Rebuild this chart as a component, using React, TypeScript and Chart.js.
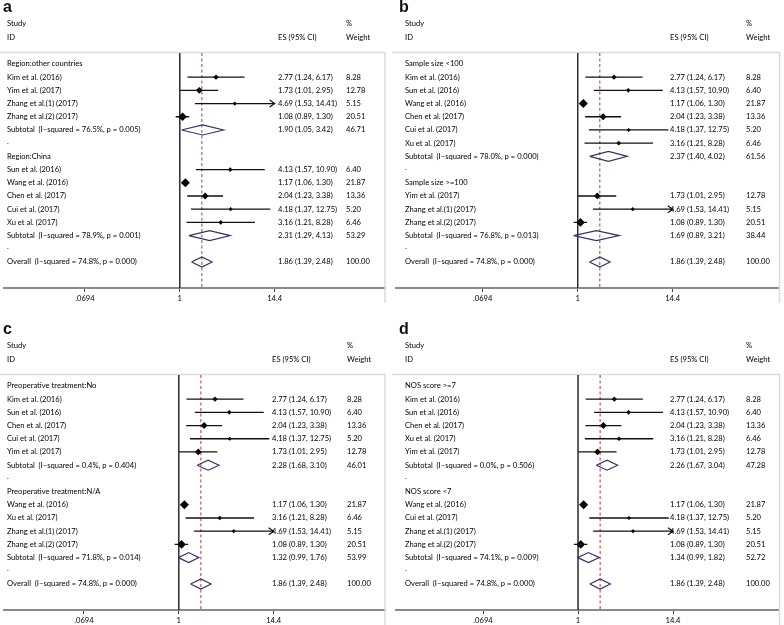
import React, { useEffect, useRef } from "react";
import { Chart, registerables } from "chart.js";
Chart.register(...registerables);

// ---------- data ----------
const studyNames = [
  "Kim et al. (2016)",
  "Yim et al. (2017)",
  "Zhang et al.(1) (2017)",
  "Zhang et al.(2) (2017)",
  "Sun et al. (2016)",
  "Wang et al. (2016)",
  "Chen et al. (2017)",
  "Cui et al. (2017)",
  "Xu et al. (2017)",
];
const studyES = [2.77, 1.73, 4.69, 1.08, 4.13, 1.17, 2.04, 4.18, 3.16];
const studyLo = [1.24, 1.01, 1.53, 0.89, 1.57, 1.06, 1.23, 1.37, 1.21];
const studyHi = [6.17, 2.95, 14.41, 1.3, 10.9, 1.3, 3.38, 12.75, 8.28];
const studyWeight = [8.28, 12.78, 5.15, 20.51, 6.4, 21.87, 13.36, 5.2, 6.46];

const panelLetters = ["a", "b", "c", "d"];
const groupTitles = [
  ["Region:other countries", "Region:China"],
  ["Sample size <100", "Sample size >=100"],
  ["Preoperative treatment:No", "Preoperative treatment:N/A"],
  ["NOS score >=7", "NOS score <7"],
];
// indices into the study arrays
const groupMembers = [
  [[0, 1, 2, 3], [4, 5, 6, 7, 8]],
  [[0, 4, 5, 6, 7, 8], [1, 2, 3]],
  [[0, 4, 6, 7, 1], [5, 8, 2, 3]],
  [[0, 4, 6, 8, 1], [5, 7, 2, 3]],
];
const subtotalHet = [
  ["76.5%, p = 0.005", "78.9%, p = 0.001"],
  ["78.0%, p = 0.000", "76.8%, p = 0.013"],
  ["0.4%, p = 0.404", "71.8%, p = 0.014"],
  ["0.0%, p = 0.506", "74.1%, p = 0.009"],
];
const subtotalES = [[1.9, 2.31], [2.37, 1.69], [2.28, 1.32], [2.26, 1.34]];
const subtotalLo = [[1.05, 1.29], [1.4, 0.89], [1.68, 0.99], [1.67, 0.99]];
const subtotalHi = [[3.42, 4.13], [4.02, 3.21], [3.1, 1.76], [3.04, 1.82]];
const subtotalWeight = [[46.71, 53.29], [61.56, 38.44], [46.01, 53.99], [47.28, 52.72]];

const overallHet = "74.8%, p = 0.000";
const overallES = 1.86;
const overallLo = 1.39;
const overallHi = 2.48;
const overallWeight = 100.0;

const tickValues = [0.0694, 1, 14.4];
const tickLabels = [".0694", "1", "14.4"];

// ---------- layout / style ----------
const W = 392;
const H = 303;
const PX_PER_LN = 35.7;
const layouts = [
  { left: 0, top: 0, nullPx: 179, areaL: 3, areaR: 385, labelX: 7, esX: 278, wX: 346, titleX: 3 },
  { left: 392, top: 0, nullPx: 185.7, areaL: 4, areaR: 388, labelX: 13, esX: 278, wX: 354, titleX: 7 },
  { left: 0, top: 322, nullPx: 178, areaL: 3, areaR: 385, labelX: 7, esX: 272, wX: 347, titleX: 3 },
  { left: 392, top: 322, nullPx: 186, areaL: 4, areaR: 388, labelX: 13, esX: 278, wX: 354, titleX: 7 },
];
const AREA_TOP = 53;
const Y_MIN = -0.83;
const Y_MAX = 16.97;
const TEXT_FONT = "7.6px Lato, 'Liberation Sans', sans-serif";
const TEXT_COLOR = "#000";
const DIAMOND_COLOR = "#34346a";
const DIAMOND_H = 0.38;

function fmtCI(es: number, lo: number, hi: number) {
  return `${es.toFixed(2)} (${lo.toFixed(2)}, ${hi.toFixed(2)})`;
}

type Row =
  | { kind: "group"; text: string }
  | { kind: "study"; s: number }
  | { kind: "subtotal"; g: number }
  | { kind: "dot" }
  | { kind: "overall" };

function buildRows(p: number): Row[] {
  const rows: Row[] = [];
  for (let g = 0; g < 2; g++) {
    rows.push({ kind: "group", text: groupTitles[p][g] });
    for (const s of groupMembers[p][g]) rows.push({ kind: "study", s });
    rows.push({ kind: "subtotal", g });
    rows.push({ kind: "dot" });
  }
  rows.push({ kind: "overall" });
  return rows;
}

function diamond(lo: number, es: number, hi: number, y: number) {
  return [
    { x: lo, y },
    { x: es, y: y - DIAMOND_H },
    { x: hi, y },
    { x: es, y: y + DIAMOND_H },
    { x: lo, y },
  ];
}

function Panel({ p }: { p: number }) {
  const ref = useRef<HTMLCanvasElement>(null);
  useEffect(() => {
    const L = layouts[p];
    const rows = buildRows(p);
    const xMin = Math.exp((L.areaL - L.nullPx) / PX_PER_LN);
    const xMax = Math.exp((L.areaR - L.nullPx) / PX_PER_LN);
    const axisMax = tickValues[tickValues.length - 1];

    const datasets: any[] = [];
    const markerData: any[] = [];
    const markerRadius: number[] = [];
    rows.forEach((row, i) => {
      if (row.kind === "study") {
        const s = row.s;
        datasets.push({
          data: [
            { x: studyLo[s], y: i },
            { x: Math.min(studyHi[s], axisMax), y: i },
          ],
          showLine: true,
          borderColor: "#111",
          borderWidth: 1.3,
          pointRadius: 0,
        });
        markerData.push({ x: studyES[s], y: i });
        markerRadius.push(Math.sqrt(studyWeight[s]) - 0.2);
      } else if (row.kind === "subtotal") {
        const g = row.g;
        datasets.push({
          data: diamond(subtotalLo[p][g], subtotalES[p][g], subtotalHi[p][g], i),
          showLine: true,
          borderColor: DIAMOND_COLOR,
          borderWidth: 1.2,
          pointRadius: 0,
          fill: false,
        });
      } else if (row.kind === "overall") {
        datasets.push({
          data: diamond(overallLo, overallES, overallHi, i),
          showLine: true,
          borderColor: DIAMOND_COLOR,
          borderWidth: 1.2,
          pointRadius: 0,
          fill: false,
        });
      }
    });
    datasets.push({
      data: markerData,
      showLine: false,
      pointStyle: "rectRot",
      pointRadius: markerRadius,
      backgroundColor: "#000",
      borderColor: "#000",
      borderWidth: 0,
    });

    const forestPlugin = {
      id: "forest" + p,
      beforeDatasetsDraw(chart: any) {
        const { ctx, chartArea, scales } = chart;
        ctx.save();
        // frame
        ctx.strokeStyle = "#dcdcdc";
        ctx.lineWidth = 1.5;
        ctx.beginPath();
        ctx.moveTo(0, chartArea.top - 0.5);
        ctx.lineTo(chartArea.right, chartArea.top - 0.5);
        ctx.lineTo(chartArea.right, H);
        ctx.stroke();
        // null line
        const x1 = scales.x.getPixelForValue(1);
        ctx.strokeStyle = "#2a2a2a";
        ctx.lineWidth = 1.5;
        ctx.beginPath();
        ctx.moveTo(x1, chartArea.top);
        ctx.lineTo(x1, chartArea.bottom);
        ctx.stroke();
        // overall effect dashed line
        const xo = scales.x.getPixelForValue(overallES);
        ctx.strokeStyle = "#b23a3a";
        ctx.lineWidth = 1;
        ctx.setLineDash([3, 2.5]);
        ctx.beginPath();
        ctx.moveTo(xo, chartArea.top);
        ctx.lineTo(xo, chartArea.bottom);
        ctx.stroke();
        ctx.restore();
      },
      afterDatasetsDraw(chart: any) {
        const { ctx, scales } = chart;
        ctx.save();
        ctx.strokeStyle = "#111";
        ctx.lineWidth = 1.2;
        rows.forEach((row, i) => {
          if (row.kind === "study" && studyHi[row.s] > axisMax) {
            const px = scales.x.getPixelForValue(axisMax);
            const py = scales.y.getPixelForValue(i);
            ctx.beginPath();
            ctx.moveTo(px - 5, py - 3.5);
            ctx.lineTo(px, py);
            ctx.lineTo(px - 5, py + 3.5);
            ctx.stroke();
          }
        });
        ctx.restore();
      },
      afterDraw(chart: any) {
        const { ctx, scales } = chart;
        ctx.save();
        ctx.fillStyle = "#111";
        ctx.textBaseline = "middle";
        ctx.font = "bold 16px 'Liberation Sans', Arial, sans-serif";
        ctx.fillText(panelLetters[p], L.titleX, 8);
        ctx.fillStyle = TEXT_COLOR;
        ctx.font = TEXT_FONT;
        ctx.fillText("Study", L.labelX, 24);
        ctx.fillText("ID", L.labelX, 38);
        ctx.fillText("ES (95% CI)", L.esX, 38);
        ctx.fillText("%", L.wX, 24);
        ctx.fillText("Weight", L.wX, 38);
        rows.forEach((row, i) => {
          const y = scales.y.getPixelForValue(i);
          if (row.kind === "group") {
            ctx.fillText(row.text, L.labelX, y);
          } else if (row.kind === "study") {
            const s = row.s;
            ctx.fillText(studyNames[s], L.labelX, y);
            ctx.fillText(fmtCI(studyES[s], studyLo[s], studyHi[s]), L.esX, y);
            ctx.fillText(studyWeight[s].toFixed(2), L.wX, y);
          } else if (row.kind === "subtotal") {
            const g = row.g;
            ctx.fillText(`Subtotal  (I\u2013squared = ${subtotalHet[p][g]})`, L.labelX, y);
            ctx.fillText(fmtCI(subtotalES[p][g], subtotalLo[p][g], subtotalHi[p][g]), L.esX, y);
            ctx.fillText(subtotalWeight[p][g].toFixed(2), L.wX, y);
          } else if (row.kind === "dot") {
            ctx.fillText(".", L.labelX, y - 2);
          } else {
            ctx.fillText(`Overall  (I\u2013squared = ${overallHet})`, L.labelX, y);
            ctx.fillText(fmtCI(overallES, overallLo, overallHi), L.esX, y);
            ctx.fillText(overallWeight.toFixed(2), L.wX, y);
          }
        });
        ctx.restore();
      },
    };

    const chart = new Chart(ref.current as HTMLCanvasElement, {
      type: "scatter",
      data: { datasets },
      options: {
        animation: false,
        responsive: false,
        devicePixelRatio: 1,
        events: [],
        layout: { padding: { top: AREA_TOP, left: L.areaL, right: W - L.areaR, bottom: 0 } },
        plugins: { legend: { display: false }, tooltip: { enabled: false } },
        elements: { line: { tension: 0 } },
        scales: {
          x: {
            type: "logarithmic",
            min: xMin,
            max: xMax,
            afterBuildTicks: (scale: any) => {
              scale.ticks = tickValues.map((v) => ({ value: v }));
            },
            afterFit: (scale: any) => {
              scale.height = 15;
            },
            ticks: {
              autoSkip: false,
              maxRotation: 0,
              padding: 2,
              color: TEXT_COLOR,
              font: { family: "Lato, 'Liberation Sans', sans-serif", size: 7.6 },
              callback: (_v: any, idx: number) => tickLabels[idx],
            },
            grid: { display: true, drawOnChartArea: false, drawTicks: true, tickLength: 4, color: "#444", lineWidth: 1 },
            border: { display: true, color: "#8a8a8a", width: 2 },
          },
          y: {
            type: "linear",
            display: false,
            reverse: true,
            min: Y_MIN,
            max: Y_MAX,
          },
        },
      } as any,
      plugins: [forestPlugin],
    });
    return () => chart.destroy();
  }, [p]);
  return <canvas ref={ref} width={W} height={H} style={{ display: "block", width: W, height: H }} />;
}

export default function App() {
  return (
    <div
      style={{
        position: "absolute",
        left: 0,
        top: 0,
        width: 784,
        height: 625,
        overflow: "hidden",
        background: "#fff",
      }}
    >
      {layouts.map((L, p) => (
        <div key={p} style={{ position: "absolute", left: L.left, top: L.top }}>
          <Panel p={p} />
        </div>
      ))}
    </div>
  );
}
